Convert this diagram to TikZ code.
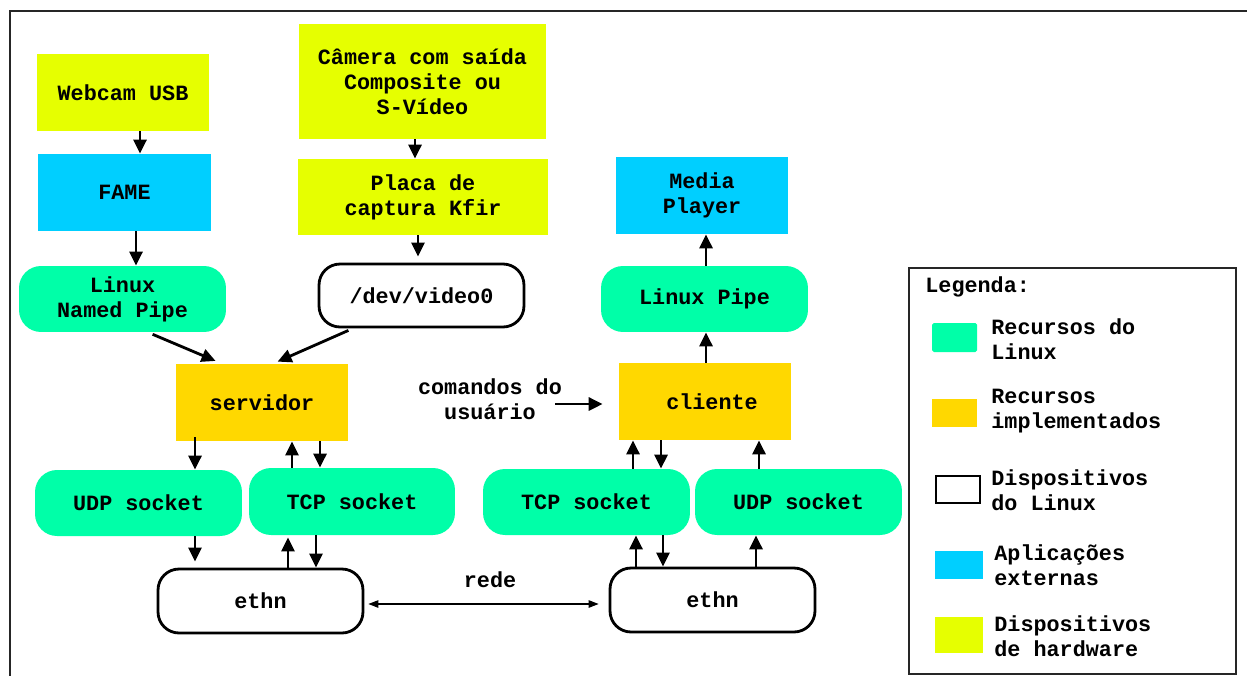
\documentclass[tikz,border=0pt]{standalone}
\usepackage{fontspec}
\setmonofont{Liberation Mono}
\usetikzlibrary{arrows.meta}
\definecolor{hwyellow}{HTML}{E6FF00}
\definecolor{appcyan}{HTML}{00CFFF}
\definecolor{linuxgreen}{HTML}{00FFA8}
\definecolor{implorange}{HTML}{FFD800}
\newcommand{\boxfont}{\ttfamily\bfseries\fontsize{12.4}{14.2}\selectfont}
\tikzset{
  sq/.style={minimum width=3.44cm, minimum height=1.54cm, inner sep=0pt, align=center, font=\boxfont},
  rnd/.style={minimum width=4.14cm, minimum height=1.32cm, inner sep=0pt, align=center, font=\boxfont, rounded corners=0.44cm, fill=linuxgreen},
  dev/.style={minimum width=4.1cm, minimum height=1.28cm, inner sep=0pt, align=center, font=\boxfont, rounded corners=0.42cm, draw, line width=1.6pt, fill=white},
  arr/.style={line width=1.6pt, -{Triangle[length=0.28cm,width=0.26cm]}},
  txt/.style={font=\boxfont, align=center, inner sep=0pt},
  leg/.style={font=\boxfont, align=left, inner sep=0pt, anchor=west}
}
\begin{document}
\begin{tikzpicture}[x=0.02cm,y=-0.02cm]
\useasboundingbox (0,0) rectangle (1247,676);
\draw[line width=0.8pt, black!85] (1247,11) -- (10,11) -- (10,676);

\node[sq, fill=hwyellow] (webcam) at (123,92.5) {Webcam USB};
\node[sq, fill=appcyan, minimum width=3.46cm] (fame) at (124.5,192.5) {FAME};
\node[rnd] (npipe) at (122.5,299) {Linux\\Named Pipe};
\node[sq, fill=hwyellow, minimum width=4.94cm, minimum height=2.3cm] (camera) at (422.5,81.5) {Câmera com saída\\Composite ou\\S-Vídeo};
\node[sq, fill=hwyellow, minimum width=5cm, minimum height=1.52cm] (placa) at (423,197) {Placa de\\captura Kfir};
\node[dev, minimum height=1.26cm] (video) at (421.5,295.5) {/dev/video0};
\node[sq, fill=implorange] (servidor) at (262,402.5) {servidor};
\node[rnd] (udpL) at (138.5,503) {UDP socket};
\node[rnd, minimum width=4.12cm, minimum height=1.34cm] (tcpL) at (352,501.5) {TCP socket};
\node[dev] (ethnL) at (260.5,601) {ethn};

\node[sq, fill=appcyan] (media) at (702,195.5) {Media\\Player};
\node[rnd] (lpipe) at (704.5,299) {Linux Pipe};
\node[sq, fill=implorange] (cliente) at (705,401.5) {\hspace*{0.28cm}cliente};
\node[txt] (comandos) at (490,399) {comandos do\\usuário};
\node[rnd] (tcpR) at (586.5,502) {TCP socket};
\node[rnd] (udpR) at (798.5,502) {UDP socket};
\node[dev] (ethnR) at (712.5,600) {ethn};
\node[txt] (rede) at (490,580) {rede};

\draw[arr] (webcam.south -| 140,0) -- (fame.north -| 140,0);
\draw[arr] (fame.south -| 136,0) -- (npipe.north -| 136,0);
\draw[arr] (camera.south -| 415,0) -- (placa.north -| 415,0);
\draw[arr, shorten >=0.12cm] (placa.south -| 418,0) -- (video.north -| 418,0);
\draw[arr, shorten <=0.1cm, shorten >=0.14cm] (npipe.south -| 148,0) -- (servidor.north -| 222,0);
\draw[arr, shorten <=0.1cm, shorten >=0.1cm] (video.south -| 353,0) -- (servidor.north -| 273,0);
\draw[arr, shorten <=-0.08cm] (servidor.south -| 195,0) -- (udpL.north -| 195,0);
\draw[arr] (tcpL.north -| 292,0) -- (servidor.south -| 292,0);
\draw[arr] (servidor.south -| 320,0) -- (tcpL.north -| 320,0);
\draw[arr, shorten >=0.12cm] (udpL.south -| 195,0) -- (ethnL.north -| 195,0);
\draw[arr, shorten >=0.04cm] (ethnL.north -| 288,0) -- (tcpL.south -| 288,0);
\draw[arr] (tcpL.south -| 316,0) -- (ethnL.north -| 316,0);
\draw[line width=0.6pt, {Triangle[length=0.2cm,width=0.15cm]}-{Triangle[length=0.2cm,width=0.15cm]}, shorten <=0.08cm, shorten >=0.2cm] (ethnL.east |- 0,604) -- (ethnR.west |- 0,604);

\draw[arr] (cliente.north -| 706,0) -- (lpipe.south -| 706,0);
\draw[arr] (lpipe.north -| 706,0) -- (media.south -| 706,0);
\draw[arr, shorten <=-0.14cm, shorten >=0.32cm] (comandos.east |- 0,404) -- (cliente.west |- 0,404);
\draw[arr] (tcpR.north -| 633,0) -- (cliente.south -| 633,0);
\draw[arr] (cliente.south -| 661,0) -- (tcpR.north -| 661,0);
\draw[arr] (udpR.north -| 759,0) -- (cliente.south -| 759,0);
\draw[arr] (ethnR.north -| 636,0) -- (tcpR.south -| 636,0);
\draw[arr] (tcpR.south -| 663,0) -- (ethnR.north -| 663,0);
\draw[arr] (ethnR.north -| 756,0) -- (udpR.south -| 756,0);

\draw[line width=0.8pt, black!85] (909,268) rectangle (1236,674);
\node[leg] (legenda) at (925,287) {Legenda:};
\fill[linuxgreen, rounded corners=1pt] (932,323) rectangle (977,352);
\node[leg] (legLinux) at (991,339.5) {Recursos do\\Linux};
\fill[implorange] (932,399) rectangle (977,427);
\node[leg] (legImpl) at (991,411.5) {Recursos\\implementados};
\draw[line width=1.6pt] (936,476) rectangle (980,503);
\node[leg] (legDev) at (991,490.5) {Dispositivos\\do Linux};
\fill[appcyan] (935,551) rectangle (983,579);
\node[leg] (legApp) at (994,565.5) {Aplicações\\externas};
\fill[hwyellow] (935,617) rectangle (983,653);
\node[leg] (legHw) at (994,636.5) {Dispositivos\\de hardware};
\end{tikzpicture}
\end{document}
